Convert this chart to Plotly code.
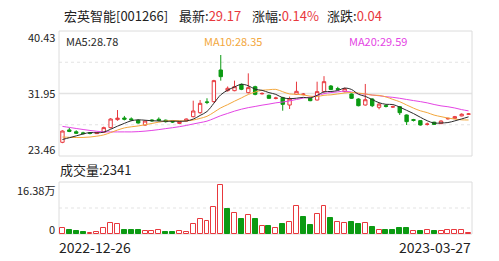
import plotly.graph_objects as go
import pandas as pd

# ---------------- data ----------------
dates = [
    "2022-12-26", "2022-12-27", "2022-12-28", "2022-12-29", "2022-12-30",
    "2023-01-03", "2023-01-04", "2023-01-05", "2023-01-06",
    "2023-01-09", "2023-01-10", "2023-01-11", "2023-01-12", "2023-01-13",
    "2023-01-16", "2023-01-17", "2023-01-18", "2023-01-19", "2023-01-20",
    "2023-01-30", "2023-01-31", "2023-02-01", "2023-02-02", "2023-02-03",
    "2023-02-06", "2023-02-07", "2023-02-08", "2023-02-09", "2023-02-10",
    "2023-02-13", "2023-02-14", "2023-02-15", "2023-02-16", "2023-02-17",
    "2023-02-20", "2023-02-21", "2023-02-22", "2023-02-23", "2023-02-24",
    "2023-02-27", "2023-02-28", "2023-03-01", "2023-03-02", "2023-03-03",
    "2023-03-06", "2023-03-07", "2023-03-08", "2023-03-09", "2023-03-10",
    "2023-03-13", "2023-03-14", "2023-03-15", "2023-03-16", "2023-03-17",
    "2023-03-20", "2023-03-21", "2023-03-22", "2023-03-23", "2023-03-24",
    "2023-03-27",
]
opens = [25.32, 27.00, 26.75, 26.60, 26.58, 26.50, 26.67, 27.31, 28.40, 28.62,
         28.50, 28.30, 27.65, 28.35, 28.45, 28.32, 28.15, 27.88, 28.21, 28.80,
         29.34, 30.80, 30.84, 35.14, 32.33, 32.33, 33.19, 32.06, 32.87, 31.90,
         31.70, 31.28, 31.38, 30.38, 31.83, 31.80, 31.29, 31.06, 32.20, 32.96,
         32.60, 32.20, 31.88, 31.20, 30.38, 31.20, 30.07, 30.30, 30.10, 30.16,
         29.03, 28.40, 28.26, 27.75, 28.05, 27.85, 28.50, 28.57, 28.90, 29.13]
highs = [26.95, 27.30, 26.95, 26.75, 26.65, 26.70, 27.45, 28.60, 29.70, 28.90,
         28.70, 28.45, 28.30, 28.45, 28.70, 28.40, 28.25, 28.20, 28.55, 30.97,
         31.06, 31.30, 33.80, 37.17, 32.90, 33.69, 33.30, 34.68, 33.00, 32.10,
         31.80, 31.50, 31.50, 31.52, 33.55, 32.00, 31.40, 33.55, 34.30, 33.10,
         32.85, 32.75, 31.95, 31.30, 33.24, 31.30, 30.70, 30.45, 30.30, 30.25,
         29.10, 28.50, 28.30, 28.00, 28.10, 28.30, 28.65, 28.90, 29.25, 29.30]
lows = [25.20, 26.70, 26.45, 26.40, 26.40, 26.45, 26.60, 27.20, 28.25, 28.30,
        28.20, 27.85, 27.55, 28.10, 28.15, 28.00, 27.95, 27.80, 28.15, 28.70,
        29.20, 30.50, 30.70, 33.69, 32.20, 32.25, 32.40, 31.95, 31.70, 31.80,
        31.25, 31.15, 29.61, 29.84, 31.75, 31.70, 30.90, 31.00, 32.10, 32.40,
        32.40, 32.10, 31.20, 30.20, 30.30, 30.10, 29.80, 30.05, 30.00, 29.03,
        27.67, 28.15, 27.60, 27.60, 27.70, 27.80, 28.40, 28.50, 28.85, 29.05]
closes = [26.85, 26.80, 26.55, 26.50, 26.55, 26.62, 27.31, 28.48, 28.60, 28.45,
          28.38, 27.94, 28.21, 28.25, 28.30, 28.12, 28.08, 28.10, 28.48, 29.57,
          30.61, 30.75, 33.69, 34.23, 32.65, 32.87, 32.51, 32.74, 31.83, 31.95,
          31.29, 31.33, 30.47, 31.20, 32.24, 31.86, 30.97, 32.20, 33.55, 32.50,
          32.52, 32.60, 31.29, 30.29, 31.10, 30.29, 30.50, 30.20, 30.15, 29.34,
          28.12, 28.30, 27.67, 27.80, 27.75, 28.21, 28.57, 28.80, 29.13, 29.17]
# volume in 万股
volumes = [1.80, 1.27, 1.00, 0.60, 0.30, 0.60, 1.80, 3.40, 3.20, 1.35,
           1.35, 1.15, 0.95, 0.95, 1.15, 0.75, 0.75, 0.95, 0.75, 3.20,
           4.65, 4.10, 8.65, 15.40, 7.80, 6.65, 4.65, 5.90, 4.65, 2.50,
           2.65, 2.00, 3.20, 3.80, 8.97, 5.30, 2.75, 6.30, 8.77, 4.96,
           3.70, 3.50, 3.80, 3.27, 3.50, 2.20, 1.27, 1.37, 1.37, 1.90,
           2.00, 0.95, 0.95, 1.16, 0.95, 0.95, 1.16, 1.16, 1.16, 0.2341]
# closes of the 19 sessions before the window (needed for the moving averages)
prior_closes = [29.60, 29.40, 29.30, 29.10, 28.90, 28.80, 28.70, 28.60, 28.40, 28.45,
                27.20, 26.80, 26.40, 26.00, 25.45, 25.60, 25.30, 25.20, 25.55]

stock_name = "宏英智能[001266]"
price_ticks = [23.46, 31.95, 40.43]
vol_max = 16.38
last_volume_shares = 2341

# ---------------- derived ----------------
RED = "#e8383d"
GREEN = "#0b9a12"
MA5_C = "#2b2b2b"
MA10_C = "#f3a73c"
MA20_C = "#e444e4"

allc = pd.Series(prior_closes + closes)
n0 = len(prior_closes)
ma5 = allc.rolling(5).mean().iloc[n0:].tolist()
ma10 = allc.rolling(10).mean().iloc[n0:].tolist()
ma20 = allc.rolling(20).mean().iloc[n0:].tolist()
prev_close = [prior_closes[-1]] + closes[:-1]
vol_up = [c >= p for c, p in zip(closes, prev_close)]
chg = closes[-1] - prev_close[-1]
pct = chg / prev_close[-1] * 100

W, H = 499, 261
def px(x): return x / W
def py(y): return 1 - y / H

L, R = 59, 472
P_TOP, P_BOT = 31, 156
V_TOP, V_BOT = 182, 234

fig = go.Figure()
fig.add_trace(go.Candlestick(
    x=dates, open=opens, high=highs, low=lows, close=closes,
    increasing=dict(line=dict(color=RED, width=1), fillcolor="white"),
    decreasing=dict(line=dict(color=GREEN, width=1), fillcolor=GREEN),
    whiskerwidth=0, hoverinfo="skip", showlegend=False, xaxis="x", yaxis="y"))
for ma, col in [(ma20, MA20_C), (ma10, MA10_C), (ma5, MA5_C)]:
    fig.add_trace(go.Scatter(x=dates, y=ma, mode="lines", line=dict(color=col, width=1, shape="spline"),
                             hoverinfo="skip", showlegend=False, xaxis="x", yaxis="y"))
fig.add_trace(go.Bar(
    x=dates, y=volumes, width=0.72,
    marker=dict(color=["white" if u else GREEN for u in vol_up],
                line=dict(color=[RED if u else GREEN for u in vol_up], width=1)),
    hoverinfo="skip", showlegend=False, xaxis="x2", yaxis="y2"))

ax_common = dict(showgrid=False, zeroline=False, showticklabels=False, showline=False,
                 type="category", range=[-0.5, len(dates) - 0.5], fixedrange=True)
fig.update_layout(
    width=W, height=H, margin=dict(l=0, r=0, t=0, b=0),
    paper_bgcolor="white", plot_bgcolor="white",
    font=dict(family="Noto Sans CJK SC, Noto Sans, sans-serif", color="#222"),
    xaxis=dict(domain=[px(L), px(R)], anchor="y", rangeslider=dict(visible=False), **ax_common),
    yaxis=dict(domain=[py(P_BOT), py(P_TOP)], range=[price_ticks[0], price_ticks[-1]],
               showgrid=False, zeroline=False, showticklabels=False, fixedrange=True),
    xaxis2=dict(domain=[px(L), px(R)], anchor="y2", **ax_common),
    yaxis2=dict(domain=[py(V_BOT), py(V_TOP)], range=[0, vol_max],
                showgrid=False, zeroline=False, showticklabels=False, fixedrange=True),
    bargap=0,
)

GRID = "#e3e3e3"
shapes = []
# price grid
mid = (price_ticks[0] + price_ticks[-1]) / 2
q1 = (price_ticks[0] + mid) / 2
q3 = (price_ticks[-1] + mid) / 2
shapes.append(dict(type="line", xref="paper", yref="y", x0=px(L), x1=px(R), y0=mid, y1=mid,
                   line=dict(color=GRID, width=1.5), layer="below"))
for yv in (q1, q3):
    shapes.append(dict(type="line", xref="paper", yref="y", x0=px(L), x1=px(R), y0=yv, y1=yv,
                       line=dict(color=GRID, width=1, dash="dot"), layer="below"))
shapes.append(dict(type="line", xref="paper", yref="y2", x0=px(L), x1=px(R), y0=vol_max / 2, y1=vol_max / 2,
                   line=dict(color=GRID, width=1, dash="dot"), layer="below"))
for t, b in [(P_TOP, P_BOT), (V_TOP, V_BOT)]:
    shapes.append(dict(type="rect", xref="paper", yref="paper", x0=px(L), x1=px(R), y0=py(b), y1=py(t),
                       line=dict(color="#dcdcdc", width=1), fillcolor="rgba(0,0,0,0)", layer="below"))
fig.update_layout(shapes=shapes)

def ann(text, x, y, size, color="#222", xanchor="left"):
    fig.add_annotation(text=text, x=px(x), y=py(y), xref="paper", yref="paper",
                       xanchor=xanchor, yanchor="middle", showarrow=False,
                       font=dict(size=size, color=color))

def red(s):
    return f"<span style='color:{RED}'>{s}</span>"

ann(stock_name, 62, 15, 13)
ann(f"最新:{red(f'{closes[-1]:.2f}')}", 177, 15, 13)
ann(f"涨幅:{red(f'{pct:.2f}%')}", 250, 15, 13)
ann(f"涨跌:{red(f'{chg:.2f}')}", 325, 15, 13)

ann(f"{price_ticks[2]:.2f}", 57, 37, 11, xanchor="right")
ann(f"{price_ticks[1]:.2f}", 57, 93, 11, xanchor="right")
ann(f"{price_ticks[0]:.2f}", 57, 149, 11, xanchor="right")

ann(f"MA5:{ma5[-1]:.2f}", 64, 41, 11, MA5_C)
ann(f"MA10:{ma10[-1]:.2f}", 202, 41, 11, MA10_C)
ann(f"MA20:{ma20[-1]:.2f}", 347, 41, 11, MA20_C)

ann(f"成交量:{last_volume_shares}", 58, 169, 13)
ann(f"{vol_max:.2f}万", 57, 190, 11, xanchor="right")
ann("0", 57, 229, 11, xanchor="right")

ann(dates[0], 57, 247, 14)
ann(dates[-1], 473, 247, 14, xanchor="right")

fig.write_html("out.html")
